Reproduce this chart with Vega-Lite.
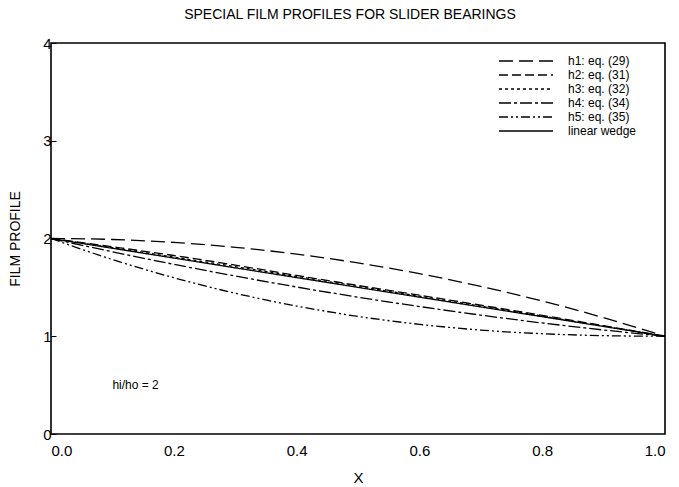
{
  "$schema": "https://vega.github.io/schema/vega-lite/v6.json",
  "width": 614,
  "height": 391,
  "autosize": {"type": "none"},
  "padding": {"left": 51, "top": 43, "right": 14, "bottom": 53},
  "background": "white",
  "config": {
    "font": "Liberation Sans",
    "view": {"stroke": "black", "strokeWidth": 1.6},
    "axis": {"grid": false, "domain": false, "labelFont": "Liberation Sans", "titleFont": "Liberation Sans", "labelColor": "black", "titleColor": "black", "tickColor": "black"}
  },
  "title": {"text": "SPECIAL FILM PROFILES FOR SLIDER BEARINGS", "fontSize": 14, "fontWeight": "normal", "font": "Liberation Sans", "color": "black", "offset": 14, "anchor": "middle", "dx": -8},
  "datasets": {
    "curves": [
      {"x": 0.0, "h": 2.0, "series": "h1: eq. (29)"},
      {"x": 0.1, "h": 1.99, "series": "h1: eq. (29)"},
      {"x": 0.2, "h": 1.96, "series": "h1: eq. (29)"},
      {"x": 0.3, "h": 1.91, "series": "h1: eq. (29)"},
      {"x": 0.4, "h": 1.84, "series": "h1: eq. (29)"},
      {"x": 0.5, "h": 1.75, "series": "h1: eq. (29)"},
      {"x": 0.6, "h": 1.64, "series": "h1: eq. (29)"},
      {"x": 0.7, "h": 1.51, "series": "h1: eq. (29)"},
      {"x": 0.8, "h": 1.36, "series": "h1: eq. (29)"},
      {"x": 0.9, "h": 1.19, "series": "h1: eq. (29)"},
      {"x": 1.0, "h": 1.0, "series": "h1: eq. (29)"},
      {"x": 0.0, "h": 2.0, "series": "h2: eq. (31)"},
      {"x": 0.1, "h": 1.915, "series": "h2: eq. (31)"},
      {"x": 0.2, "h": 1.826, "series": "h2: eq. (31)"},
      {"x": 0.3, "h": 1.728, "series": "h2: eq. (31)"},
      {"x": 0.4, "h": 1.622, "series": "h2: eq. (31)"},
      {"x": 0.5, "h": 1.52, "series": "h2: eq. (31)"},
      {"x": 0.6, "h": 1.42, "series": "h2: eq. (31)"},
      {"x": 0.7, "h": 1.318, "series": "h2: eq. (31)"},
      {"x": 0.8, "h": 1.214, "series": "h2: eq. (31)"},
      {"x": 0.9, "h": 1.108, "series": "h2: eq. (31)"},
      {"x": 1.0, "h": 1.0, "series": "h2: eq. (31)"},
      {"x": 0.0, "h": 2.0, "series": "h3: eq. (32)"},
      {"x": 0.1, "h": 1.906, "series": "h3: eq. (32)"},
      {"x": 0.2, "h": 1.81, "series": "h3: eq. (32)"},
      {"x": 0.3, "h": 1.712, "series": "h3: eq. (32)"},
      {"x": 0.4, "h": 1.612, "series": "h3: eq. (32)"},
      {"x": 0.5, "h": 1.51, "series": "h3: eq. (32)"},
      {"x": 0.6, "h": 1.41, "series": "h3: eq. (32)"},
      {"x": 0.7, "h": 1.308, "series": "h3: eq. (32)"},
      {"x": 0.8, "h": 1.206, "series": "h3: eq. (32)"},
      {"x": 0.9, "h": 1.103, "series": "h3: eq. (32)"},
      {"x": 1.0, "h": 1.0, "series": "h3: eq. (32)"},
      {"x": 0.0, "h": 2.0, "series": "h4: eq. (34)"},
      {"x": 0.1, "h": 1.864, "series": "h4: eq. (34)"},
      {"x": 0.2, "h": 1.736, "series": "h4: eq. (34)"},
      {"x": 0.3, "h": 1.616, "series": "h4: eq. (34)"},
      {"x": 0.4, "h": 1.504, "series": "h4: eq. (34)"},
      {"x": 0.5, "h": 1.4, "series": "h4: eq. (34)"},
      {"x": 0.6, "h": 1.304, "series": "h4: eq. (34)"},
      {"x": 0.7, "h": 1.216, "series": "h4: eq. (34)"},
      {"x": 0.8, "h": 1.136, "series": "h4: eq. (34)"},
      {"x": 0.9, "h": 1.064, "series": "h4: eq. (34)"},
      {"x": 1.0, "h": 1.0, "series": "h4: eq. (34)"},
      {"x": 0.0, "h": 2.0, "series": "h5: eq. (35)"},
      {"x": 0.1, "h": 1.785, "series": "h5: eq. (35)"},
      {"x": 0.2, "h": 1.599, "series": "h5: eq. (35)"},
      {"x": 0.3, "h": 1.44, "series": "h5: eq. (35)"},
      {"x": 0.4, "h": 1.309, "series": "h5: eq. (35)"},
      {"x": 0.5, "h": 1.203, "series": "h5: eq. (35)"},
      {"x": 0.6, "h": 1.122, "series": "h5: eq. (35)"},
      {"x": 0.7, "h": 1.063, "series": "h5: eq. (35)"},
      {"x": 0.8, "h": 1.026, "series": "h5: eq. (35)"},
      {"x": 0.9, "h": 1.006, "series": "h5: eq. (35)"},
      {"x": 1.0, "h": 1.0, "series": "h5: eq. (35)"},
      {"x": 0.0, "h": 2.0, "series": "linear wedge"},
      {"x": 0.5, "h": 1.5, "series": "linear wedge"},
      {"x": 1.0, "h": 1.0, "series": "linear wedge"}
    ],
    "notes": [
      {"x": 0.1, "h": 0.5, "text": "hi/ho = 2"}
    ]
  },
  "layer": [
    {
      "data": {"name": "curves"},
      "mark": {"type": "line", "interpolate": "monotone", "color": "black", "strokeWidth": 1.3},
      "encoding": {
        "x": {"field": "x", "type": "quantitative", "scale": {"domain": [0, 1], "nice": false},
          "axis": {"values": [0, 0.2, 0.4, 0.6, 0.8, 1.0], "format": ".1f", "tickSize": 0, "labelFontSize": 15, "labelPadding": 9, "title": "X", "titleFontSize": 15, "titleFontWeight": "normal", "titlePadding": 12}},
        "y": {"field": "h", "type": "quantitative", "scale": {"domain": [0, 4], "nice": false},
          "axis": {"values": [0, 1, 2, 3, 4], "format": "d", "tickSize": -5, "tickWidth": 1, "labelFontSize": 15, "labelPadding": 5, "title": "FILM PROFILE", "titleFontSize": 14, "titleFontWeight": "normal", "titlePadding": 20}},
        "strokeDash": {"field": "series", "type": "nominal",
          "scale": {"domain": ["h1: eq. (29)", "h2: eq. (31)", "h3: eq. (32)", "h4: eq. (34)", "h5: eq. (35)", "linear wedge"],
            "range": [[14, 6], [9, 4], [3, 3], [12, 3, 3, 3], [9, 3, 2, 3, 2, 3], [1, 0]]},
          "legend": {"title": null, "orient": "none", "legendX": 468, "legendY": 11, "symbolType": "M-4.5,0H4.5", "symbolSize": 144, "symbolStrokeWidth": 1.3, "symbolStrokeColor": "black", "symbolFillColor": "transparent", "labelFontSize": 12, "labelFont": "Liberation Sans", "labelColor": "black", "labelOffset": 35, "rowPadding": 1}}
      }
    },
    {
      "data": {"name": "notes"},
      "mark": {"type": "text", "align": "left", "baseline": "middle", "fontSize": 12, "font": "Liberation Sans", "color": "black"},
      "encoding": {
        "x": {"field": "x", "type": "quantitative"},
        "y": {"field": "h", "type": "quantitative"},
        "text": {"field": "text"}
      }
    }
  ]
}
